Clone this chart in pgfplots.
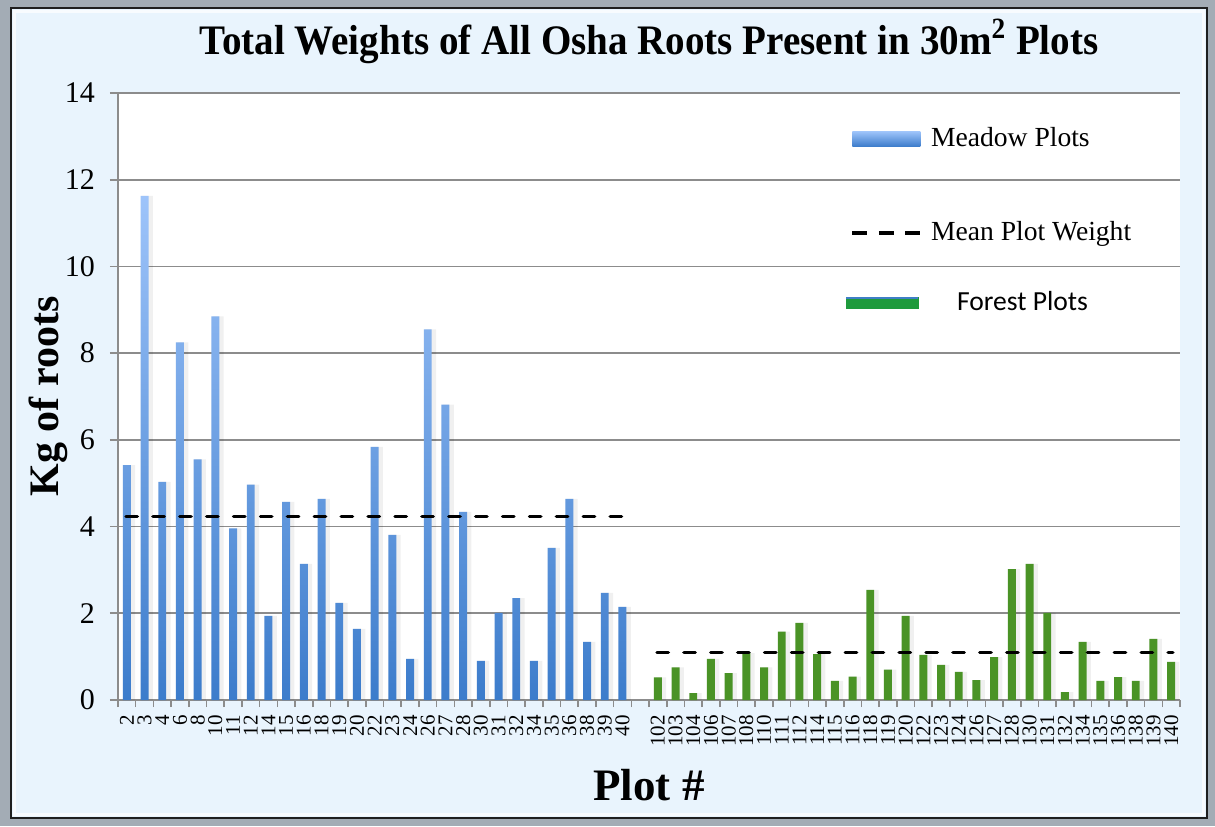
\documentclass[border=0pt]{standalone}
\usepackage{pgfplots}
\pgfplotsset{compat=1.18}
\usepackage{pgfplotstable}
\usepackage{graphicx}
\usepackage{fontspec}
\setmainfont{Liberation Serif}
\newfontfamily\carlito{Carlito}
\definecolor{framegray}{HTML}{A3ACB5}
\definecolor{framedark}{HTML}{1F1F1F}
\definecolor{panel}{HTML}{E9F4FD}
\definecolor{gridgray}{HTML}{8C8C8C}
\definecolor{mtop}{HTML}{9EC4FA}
\definecolor{mbot}{HTML}{3C7CCB}
\definecolor{fgreen}{HTML}{4A9326}
\definecolor{lgreen}{HTML}{1E9A3C}
\definecolor{lblue}{HTML}{3F7FC6}

\pgfplotstableread{
x y
0 5.42
1 11.63
2 5.03
3 8.25
4 5.55
5 8.85
6 3.96
7 4.97
8 1.94
9 4.57
10 3.14
11 4.64
12 2.24
13 1.64
14 5.84
15 3.81
16 0.95
17 8.55
18 6.81
19 4.34
20 0.90
21 2.01
22 2.35
23 0.90
24 3.51
25 4.64
26 1.34
27 2.47
28 2.15
}\meadow

\pgfplotstableread{
x y
30 0.52
31 0.75
32 0.16
33 0.95
34 0.62
35 1.08
36 0.75
37 1.58
38 1.78
39 1.06
40 0.44
41 0.54
42 2.54
43 0.70
44 1.94
45 1.04
46 0.81
47 0.65
48 0.46
49 0.99
50 3.02
51 3.14
52 2.01
53 0.18
54 1.34
55 0.44
56 0.53
57 0.44
58 1.41
59 0.88
}\forest

\begin{document}
\begin{tikzpicture}
\fill[framegray] (-59pt,-63pt) rectangle (548.5pt,350pt);
\path[use as bounding box] (-59pt,-63pt) rectangle (548.5pt,350pt);
\draw[framedark, line width=1.2pt, fill=panel] (-53.5pt,-59pt) rectangle (544.5pt,346pt);
\draw[white, line width=1.5pt, opacity=0.7] (-51.5pt,-57pt) rectangle (542.5pt,344pt);
\begin{axis}[
  scale only axis, width=531pt, height=303.5pt,
  xmin=-0.5, xmax=59.5, ymin=0, ymax=14,
  ytick={0,2,...,14},
  xtick={0,...,59},
  xticklabels={2,3,4,6,8,10,11,12,14,15,16,18,19,20,22,23,24,26,27,28,30,31,32,34,35,36,38,39,40,,102,103,104,106,107,108,110,111,112,114,115,116,118,119,120,122,123,124,126,127,128,130,131,132,134,135,136,138,139,140},
  minor xtick={-0.5,0.5,...,59.5},
  /pgf/number format/assume math mode=true,
  yticklabel style={font=\fontsize{15}{17}\selectfont, xshift=-4pt},
  xticklabel style={font=\fontsize{10.5}{12}\selectfont, rotate=90, anchor=east},
  axis x line*=bottom, axis y line*=left,
  axis line style={-, draw=gridgray, line width=0.8pt},
  ymajorgrids, grid style={draw=gridgray, line width=0.8pt},
  tick align=outside, major tick length=4pt, minor tick length=3.5pt,
  tick style={draw=gridgray, line width=0.8pt},
  major x tick style={draw=none},
  axis background/.style={fill=white},
  title={\scalebox{0.93}[1]{Total Weights of All Osha Roots Present in 30m\textsuperscript{2} Plots}},
  title style={font=\fontsize{21}{24}\selectfont\bfseries, at={(0.5,1)}, anchor=base, yshift=13.5pt},
  ylabel={Kg of roots},
  ylabel style={font=\fontsize{21}{24}\selectfont\bfseries, at={(axis description cs:-0.0659,0.5)}, anchor=center},
  xlabel={Plot \#},
  xlabel style={font=\fontsize{22.5}{26}\selectfont\bfseries, at={(axis description cs:0.5,0)}, anchor=base, yshift=-50pt},
  legend style={at={(0.6845,0.9646)}, anchor=north west, draw=none, fill=none, inner sep=0pt, row sep=0pt, column sep=4.5pt, nodes={inner sep=0pt}, font=\fontsize{13.8}{16}\selectfont},
  legend cell align=left,
]
\addplot[ybar, bar width=0.6, bar shift=1.5pt, draw=none, fill=black, opacity=0.06, forget plot] table[x=x,y=y]{\meadow};
\addplot[ybar, bar width=0.6, bar shift=1.5pt, draw=none, fill=black, opacity=0.06, forget plot] table[x=x,y=y]{\forest};
\addplot[ybar, bar width=0.45, bar shift=0pt, draw=none, top color=mtop, bottom color=mbot, forget plot] table[x=x,y=y]{\meadow};
\addplot[ybar, bar width=0.45, bar shift=0pt, draw=none, fill=fgreen, forget plot] table[x=x,y=y]{\forest};
\addplot[black, line width=1.7pt, line cap=round, dash pattern=on 5.7pt off 7.75pt, forget plot] coordinates {(-0.05,4.23) (28.1,4.23)};
\addplot[black, line width=1.7pt, line cap=round, dash pattern=on 5.7pt off 7.75pt, forget plot] coordinates {(29.95,1.10) (59.1,1.10)};
\addlegendimage{legend image code/.code={\path[draw=none, top color=mtop, bottom color=mbot] (0pt,-3.75pt) rectangle (34pt,3.75pt); \path[draw=none, fill=none] (0pt,-35pt) -- (0pt,12pt);}}
\addlegendentry{Meadow Plots}
\addlegendimage{legend image code/.code={\draw[black, line width=1.7pt, dash pattern=on 7.5pt off 5.75pt] (0pt,0pt) -- (34pt,0pt); \path[draw=none, fill=none] (0pt,-23pt) -- (0pt,12pt);}}
\addlegendentry{Mean Plot Weight}
\addlegendimage{legend image code/.code={\fill[lgreen] (-3pt,-2.75pt) rectangle (33pt,2.75pt); \draw[lblue, line width=1pt] (-3pt,2.25pt) -- (33pt,2.25pt); \path[draw=none, fill=none] (0pt,-3pt) -- (0pt,12pt);}}
\addlegendentry{\hspace{13pt}{\carlito Forest Plots}}
\end{axis}
\end{tikzpicture}
\end{document}
